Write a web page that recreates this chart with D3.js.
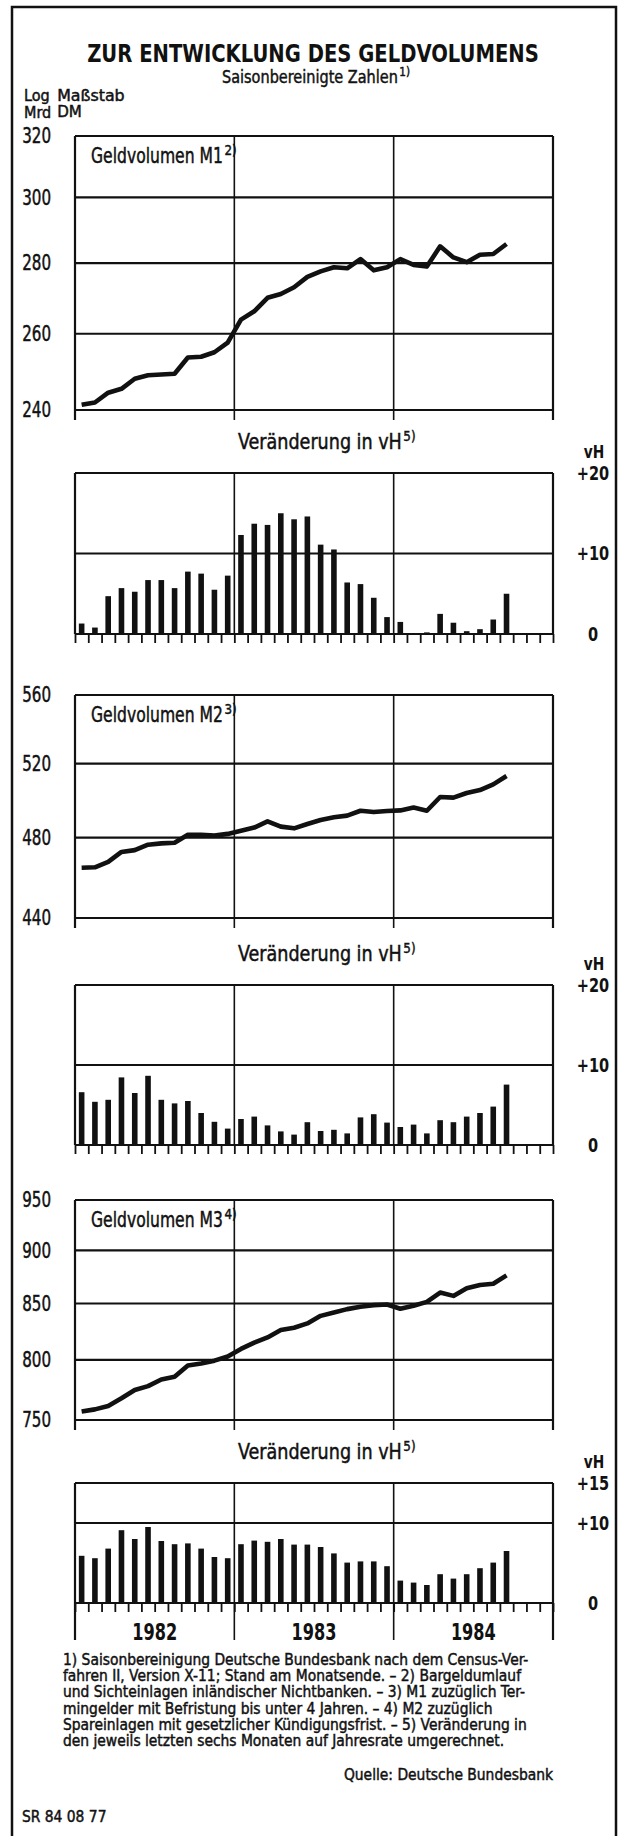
<!DOCTYPE html>
<html><head><meta charset="utf-8">
<script src="https://cdn.jsdelivr.net/npm/d3@7"></script>
<style>
html,body{margin:0;padding:0;background:#fff;}
svg{display:block;}
text{font-family:'Liberation Sans Narrow','Arial Narrow','DejaVu Sans Condensed','Liberation Sans',Arial,sans-serif;fill:#111;}
text.med{stroke:#111;stroke-width:0.45px;}
</style></head><body>
<svg id="c" width="629" height="1836"></svg>
<script>
// ---------------- DATA ----------------
const months = ["1982-01","1982-02","1982-03","1982-04","1982-05","1982-06","1982-07","1982-08","1982-09","1982-10","1982-11","1982-12",
  "1983-01","1983-02","1983-03","1983-04","1983-05","1983-06","1983-07","1983-08","1983-09","1983-10","1983-11","1983-12",
  "1984-01","1984-02","1984-03","1984-04","1984-05","1984-06","1984-07","1984-08","1984-09"];
const years = ["1982","1983","1984"];
const m1Values = [241.3,241.9,244.4,245.4,248.0,248.9,249.1,249.3,253.6,253.8,255.0,257.6,263.9,266.2,270.0,271.1,273.0,276.0,277.6,278.8,278.5,281.2,277.9,278.8,281.2,279.5,279.0,285.0,281.7,280.3,282.5,282.7,285.7];
const m1Change = [1.3,0.8,4.7,5.7,5.25,6.7,6.7,5.7,7.75,7.5,5.5,7.25,12.3,13.7,13.55,15.0,14.25,14.6,11.1,10.5,6.4,6.2,4.5,2.1,1.5,0,0.2,2.5,1.4,0.35,0.6,1.8,5.0];
const m2Values = [464.6,464.8,467.5,472.6,473.5,476.3,477.0,477.3,481.4,481.4,481.0,481.9,483.5,485.2,488.5,485.7,484.8,487.1,489.2,490.6,491.5,494.1,493.4,494.0,494.3,495.8,494.1,501.5,501.2,503.7,505.3,508.4,513.0];
const m2Change = [6.6,5.4,5.65,8.45,6.5,8.65,5.65,5.2,5.5,4.0,2.9,2.05,3.25,3.55,2.45,1.7,1.3,2.85,1.75,1.9,1.45,3.45,3.85,2.8,2.25,2.55,1.45,3.1,2.85,3.55,4.0,4.8,7.55];
const m3Values = [756.8,758.6,761.4,767.7,774.6,777.8,783.4,785.6,795.3,796.9,799.4,802.9,809.5,815.0,819.6,826.1,828.2,832.0,838.8,841.8,844.9,847.1,848.5,849.1,845.2,848.0,851.5,860.1,857.0,864.0,867.1,868.3,876.1];
const m3Change = [5.9,5.6,6.8,9.1,8.0,9.5,7.75,7.35,7.45,6.8,5.75,5.6,7.35,7.8,7.65,8.0,7.3,7.3,7.0,6.2,5.05,5.2,5.2,4.6,2.8,2.55,2.25,3.6,3.05,3.6,4.35,5.05,6.5];
const m1Ticks = [240,260,280,300,320];
const m2Ticks = [440,480,520,560];
const m3Ticks = [750,800,850,900,950];
const changeTicks20 = [0,10,20];
const changeLabels20 = ["0","+10","+20"];
const changeTicks15 = [0,10,15];
const changeLabels15 = ["0","+10","+15"];
const footnotes = [
  "1) Saisonbereinigung Deutsche Bundesbank nach dem Census-Ver-",
  "fahren II, Version X-11; Stand am Monatsende. \u2013 2) Bargeldumlauf",
  "und Sichteinlagen inländischer Nichtbanken. \u2013 3) M1 zuzüglich Ter-",
  "mingelder mit Befristung bis unter 4 Jahren. \u2013 4) M2 zuzüglich",
  "Spareinlagen mit gesetzlicher Kündigungsfrist. \u2013 5) Veränderung in",
  "den jeweils letzten sechs Monaten auf Jahresrate umgerechnet."
];

// ---------------- LAYOUT ----------------
const svg = d3.select("#c");
const INK = "#111";
const X0 = 75, X1 = 553;
const x = d3.scaleLinear().domain([0, 36]).range([X0, X1]);
const yearBounds = [0, 12, 24, 36];

svg.append("rect").attr("x",12).attr("y",7).attr("width",604).attr("height",1900)
  .attr("fill","none").attr("stroke",INK).attr("stroke-width",2.5);

// condensed text: glyphs scaled horizontally (about the anchor) so the width equals `len`
function txt(s, xx, yy, size, opt = {}) {
  const t = svg.append("text").attr("x", xx).attr("y", yy)
    .attr("font-size", size).attr("font-weight", opt.w || 400)
    .attr("class", opt.w ? null : "med")
    .attr("text-anchor", opt.a || "start").text(s);
  let k = opt.k || 1;
  if (opt.len) {
    const w = t.node().getComputedTextLength();
    if (w > 0) k = Math.min(opt.len / w, 1.2);
  }
  if (k !== 1) t.attr("transform", `translate(${xx},0) scale(${k},1) translate(${-xx},0)`);
  t.k = k;
  return t;
}
function supTxt(s, sup, xx, yy, size, len) {
  const t = txt(s, xx, yy, size, {len});
  const w = t.node().getComputedTextLength() * t.k;
  txt(sup, xx + w + 1.5, yy - size * 0.36, size * 0.7, {k: 0.9});
}

// header
txt("ZUR ENTWICKLUNG DES GELDVOLUMENS", 313, 62, 24, {a:"middle", w:700, len:452});
supTxt("Saisonbereinigte Zahlen", "1)", 222, 83, 18.5, 176);
const logT = txt("Log", 24, 101, 16);
const mrdT = txt("Mrd", 24, 117.5, 16);
const col2 = 24 + Math.max(logT.node().getComputedTextLength(), mrdT.node().getComputedTextLength()) + 6;
txt("Maßstab", col2, 101, 16, {k:1.1});
txt("DM", col2, 117.5, 16, {k:1.05});

function lineChart(top, bottom, dom, ticks, vals, name, sup) {
  const y = d3.scaleLog().domain(dom).range([bottom, top]);
  const g = svg.append("g");
  g.selectAll("line.h").data(ticks).join("line")
    .attr("x1", X0).attr("x2", X1).attr("y1", d => y(d)).attr("y2", d => y(d))
    .attr("stroke", INK).attr("stroke-width", 2.2);
  g.selectAll("line.v").data(yearBounds).join("line")
    .attr("x1", d => x(d)).attr("x2", d => x(d)).attr("y1", top).attr("y2", bottom + 10)
    .attr("stroke", INK).attr("stroke-width", (d, i) => (i === 0 || i === 3) ? 2.2 : 1.6);
  const kk = 0.8, pad = 24;
  const ax = g.append("g").attr("transform", `translate(${X0},0)`)
    .call(d3.axisLeft(y).tickValues(ticks).tickFormat(d3.format("d")).tickSize(0).tickPadding(pad));
  ax.select(".domain").remove();
  ax.selectAll("text").attr("font-size", 21).attr("font-family", null).attr("fill", INK)
    .attr("class", "med").attr("x", -pad / kk).attr("transform", `scale(${kk},1)`);
  g.append("path").datum(vals)
    .attr("d", d3.line().x((d, i) => x(i + 0.5)).y(d => y(d)))
    .attr("fill", "none").attr("stroke", INK).attr("stroke-width", 4.6)
    .attr("stroke-linejoin", "round");
  supTxt(name, sup, X0 + 16, top + 27, 21, 132);
}

function barChart(top, base, max, ticks, labels, vals, headY, years) {
  const y = d3.scaleLinear().domain([0, max]).range([base, top]);
  const g = svg.append("g");
  supTxt("Veränderung in vH", "5)", 238, headY, 21, 164);
  txt("vH", 594, headY + 9, 18, {a:"middle", w:700, k:0.85});
  g.selectAll("line.h").data(ticks).join("line")
    .attr("x1", X0).attr("x2", X1).attr("y1", d => y(d)).attr("y2", d => y(d))
    .attr("stroke", INK).attr("stroke-width", 2.2);
  const vEnd = years ? base + 37 : base;
  g.selectAll("line.v").data(yearBounds).join("line")
    .attr("x1", d => x(d)).attr("x2", d => x(d)).attr("y1", top).attr("y2", vEnd)
    .attr("stroke", INK).attr("stroke-width", (d, i) => (i === 0 || i === 3) ? 2.2 : 1.6);
  g.selectAll("rect").data(vals).join("rect")
    .attr("x", (d, i) => x(i + 0.5) - 2.8).attr("width", 5.6)
    .attr("y", d => y(d)).attr("height", d => base - y(d)).attr("fill", INK);
  const mt = g.append("g").attr("transform", `translate(0,${base})`)
    .call(d3.axisBottom(x).tickValues(d3.range(37)).tickSize(9).tickFormat(""));
  mt.select(".domain").remove();
  mt.selectAll("line").attr("stroke", INK).attr("stroke-width", 1.8);
  const kk = 0.85, pad = 40;
  const ar = g.append("g").attr("transform", `translate(${X1},0)`)
    .call(d3.axisRight(y).tickValues(ticks).tickFormat((d, i) => labels[i]).tickSize(0).tickPadding(pad));
  ar.select(".domain").remove();
  ar.selectAll("text").attr("font-size", 19).attr("font-weight", 700).attr("font-family", null)
    .attr("text-anchor", "middle").attr("fill", INK)
    .attr("x", pad / kk).attr("transform", `scale(${kk},1)`);
  if (years) {
    g.selectAll("text.yr").data(years).join("text")
      .attr("x", (d, i) => x(i * 12 + 6)).attr("y", base + 37)
      .attr("text-anchor", "middle").attr("font-size", 23).attr("font-weight", 700)
      .attr("transform", (d, i) => `translate(${x(i * 12 + 6)},0) scale(0.78,1) translate(${-x(i * 12 + 6)},0)`)
      .text(d => d);
  }
}

// M1
lineChart(136, 410, [240, 320], m1Ticks, m1Values, "Geldvolumen M1", "2)");
barChart(473, 634, 20, changeTicks20, changeLabels20, m1Change, 449);
// M2
lineChart(695, 918, [440, 560], m2Ticks, m2Values, "Geldvolumen M2", "3)");
barChart(985, 1145, 20, changeTicks20, changeLabels20, m2Change, 961);
// M3
lineChart(1200, 1420, [750, 950], m3Ticks, m3Values, "Geldvolumen M3", "4)");
barChart(1483, 1603, 15, changeTicks15, changeLabels15, m3Change, 1459, years);

// footnotes: one common condensing fitted on the first line
const FS = 16;
const f0 = txt(footnotes[0], 63, 1665, FS, {len: 466});
const fk = f0.k;
footnotes.slice(1).forEach((s, i) => txt(s, 63, 1665 + (i + 1) * 16.2, FS, {k: fk}));
txt("Quelle: Deutsche Bundesbank", 553, 1780, FS, {a:"end", k: fk});
txt("SR 84 08 77", 22, 1822, FS, {k: fk});
</script>
</body></html>
